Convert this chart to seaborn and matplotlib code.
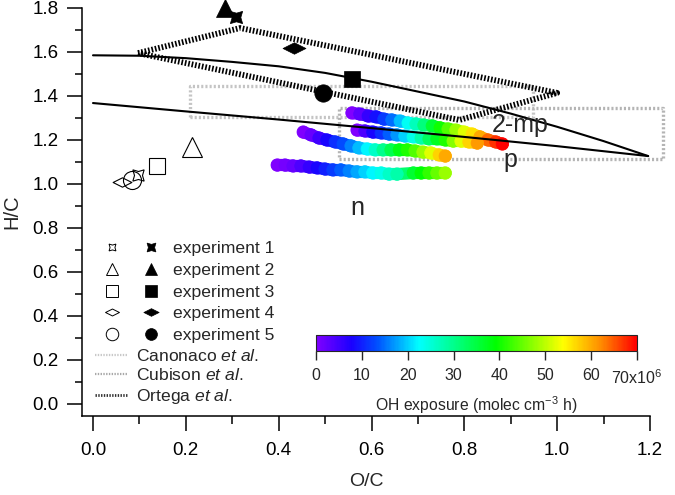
import numpy as np
import pandas as pd
import matplotlib
matplotlib.use("Agg")
import matplotlib.pyplot as plt
import seaborn as sns
from matplotlib.colors import LinearSegmentedColormap, Normalize
from matplotlib.cm import ScalarMappable
from matplotlib.collections import LineCollection
from matplotlib.lines import Line2D
from matplotlib.legend_handler import HandlerTuple
from matplotlib.path import Path

# ---------------- data ----------------
exp_labels = ["experiment 1", "experiment 2", "experiment 3", "experiment 4", "experiment 5"]
start_oc = [0.097, 0.213, 0.138, 0.062, 0.084]
start_hc = [1.041, 1.168, 1.082, 1.009, 1.018]
end_oc = [0.308, 0.284, 0.558, 0.433, 0.496]
end_hc = [1.760, 1.800, 1.477, 1.618, 1.414]

bandA_oc = [0.558, 0.575, 0.593, 0.610, 0.627, 0.644, 0.662, 0.679, 0.696, 0.713,
            0.731, 0.748, 0.765, 0.782, 0.800, 0.817, 0.834, 0.851, 0.868, 0.882]
bandA_hc = [1.323, 1.318, 1.309, 1.305, 1.295, 1.291, 1.286, 1.277, 1.273, 1.268,
            1.264, 1.255, 1.250, 1.245, 1.236, 1.227, 1.214, 1.200, 1.191, 1.182]
bandA_oh = [0, 3, 6, 9, 12, 15, 19, 23, 27, 31, 36, 40, 44, 48, 52, 56, 60, 64, 67, 70]

bandB_oc = [0.569, 0.586, 0.603, 0.621, 0.638, 0.655, 0.672, 0.690, 0.707, 0.724,
            0.741, 0.759, 0.776, 0.793, 0.810, 0.828]
bandB_hc = [1.245, 1.241, 1.236, 1.232, 1.227, 1.223, 1.218, 1.214, 1.209, 1.205,
            1.205, 1.200, 1.195, 1.195, 1.191, 1.186]
bandB_oh = [0, 4, 8, 11, 14, 17, 20, 24, 28, 33, 37, 41, 47, 52, 57, 61]

bandC_oc = [0.453, 0.470, 0.487, 0.504, 0.522, 0.539, 0.556, 0.573, 0.591, 0.608,
            0.625, 0.642, 0.660, 0.677, 0.694, 0.711, 0.728, 0.746, 0.759]
bandC_hc = [1.236, 1.223, 1.209, 1.200, 1.191, 1.182, 1.173, 1.164, 1.159, 1.155,
            1.155, 1.155, 1.155, 1.155, 1.150, 1.145, 1.141, 1.132, 1.127]
bandC_oh = [0, 2, 5, 8, 11, 13, 16, 19, 22, 26, 30, 34, 38, 41, 44, 48, 52, 57, 60]

bandD_oc = [0.397, 0.414, 0.431, 0.448, 0.466, 0.483, 0.500, 0.517, 0.534, 0.552,
            0.569, 0.586, 0.603, 0.621, 0.638, 0.655, 0.690, 0.707, 0.724, 0.741, 0.759]
bandD_hc = [1.086, 1.086, 1.082, 1.082, 1.077, 1.073, 1.068, 1.064, 1.064, 1.059,
            1.055, 1.055, 1.050, 1.050, 1.045, 1.045, 1.050, 1.050, 1.050, 1.050, 1.050]
bandD_oh = [0, 1, 2, 4, 6, 8, 10, 12, 14, 16, 18, 20, 22, 24, 26, 28, 36, 39, 42, 45, 48]

upper_oc = [0.0, 0.1, 0.2, 0.3, 0.4, 0.5, 0.6, 0.7, 0.8, 0.9, 1.0, 1.1, 1.196]
upper_hc = [1.585, 1.583, 1.572, 1.555, 1.535, 1.505, 1.465, 1.420, 1.375, 1.320, 1.260, 1.195, 1.127]
lower_oc = [0.0, 0.2, 0.4, 0.6, 0.8, 1.0, 1.196]
lower_hc = [1.368, 1.330, 1.293, 1.254, 1.214, 1.172, 1.127]

ortega_oc = [0.097, 0.317, 1.000, 0.789, 0.097]
ortega_hc = [1.595, 1.709, 1.414, 1.291, 1.595]
canonaco_oc = [0.210, 0.948, 0.948, 0.210, 0.210]
canonaco_hc = [1.305, 1.305, 1.445, 1.445, 1.305]
cubison_oc = [0.530, 1.228, 1.228, 0.530, 0.530]
cubison_hc = [1.114, 1.114, 1.345, 1.345, 1.114]

region_labels = ["2-mp", "p", "n"]
region_oc = [0.920, 0.899, 0.570]
region_hc = [1.236, 1.077, 0.859]

cbar_ticks = [0, 10, 20, 30, 40, 50, 60, 70]
cbar_ticklabels = ["0", "10", "20", "30", "40", "50", "60", "70x10$^6$"]

# ---------------- style ----------------
sns.set_style("ticks")
plt.rcParams['font.family'] = ['Liberation Sans', 'DejaVu Sans']
plt.rcParams['mathtext.fontset'] = 'custom'
plt.rcParams['mathtext.rm'] = 'Liberation Sans'
plt.rcParams['mathtext.it'] = 'Liberation Sans:italic'
plt.rcParams['lines.scale_dashes'] = False

FS = 12.6
TFS = 13.5
cmap = LinearSegmentedColormap.from_list(
    "igor_rainbow",
    [(0.0, '#8000ff'), (0.11, '#1a00ff'), (0.19, '#0050ff'), (0.32, '#00ffff'),
     (0.56, '#00ff00'), (0.77, '#ffff00'), (0.885, '#ff9000'), (1.0, '#ff0000')])
norm = Normalize(0, 70)

fig = plt.figure(figsize=(6.75, 4.95), dpi=100)
ax = fig.add_axes([82 / 675, 1 - 416 / 495, 568 / 675, 408 / 495])

# gray dotted regions
ax.plot(canonaco_oc, canonaco_hc, color='#c4c4c4', lw=2.4, ls=(0, (1.5, 1.5)),
        zorder=1, clip_on=False, dash_capstyle='butt')
ax.plot(cubison_oc, cubison_hc, color='#b4b4b4', lw=2.4, ls=(0, (1.5, 1.5)),
        zorder=1, clip_on=False, dash_capstyle='butt')

# trajectories colored by OH exposure
bands = []
for name, oc, hc, oh in [("A", bandA_oc, bandA_hc, bandA_oh),
                         ("B", bandB_oc, bandB_hc, bandB_oh),
                         ("C", bandC_oc, bandC_hc, bandC_oh),
                         ("D", bandD_oc, bandD_hc, bandD_oh)]:
    bands.append(pd.DataFrame({"band": name, "O/C": oc, "H/C": hc, "OH": oh}))
df = pd.concat(bands, ignore_index=True)
for name, sub in df.groupby("band", sort=False):
    pts = sub[["O/C", "H/C"]].to_numpy()
    segs = np.stack([pts[:-1], pts[1:]], axis=1)
    ohv = sub["OH"].to_numpy()
    lc = LineCollection(segs, colors=cmap(norm((ohv[:-1] + ohv[1:]) / 2)),
                        linewidths=8.8, capstyle='round', zorder=2)
    ax.add_collection(lc)
    sns.scatterplot(data=sub, x="O/C", y="H/C", hue="OH", palette=cmap,
                    hue_norm=(0, 70), s=80, marker='o', edgecolor='face',
                    linewidth=0.6, legend=False, ax=ax, zorder=2)

# solid lines
sns.lineplot(x=upper_oc, y=upper_hc, sort=False, estimator=None, color='black',
             lw=1.5, ax=ax, zorder=3)
sns.lineplot(x=lower_oc, y=lower_hc, sort=False, estimator=None, color='black',
             lw=1.5, ax=ax, zorder=3)
# Ortega dotted
ax.plot(ortega_oc, ortega_hc, color='black', lw=4.2, ls=(0, (1.2, 1.3)),
        zorder=3, dash_capstyle='butt')

# markers
diamond = Path([(-1, 0), (0, 0.5), (1, 0), (0, -0.5), (-1, 0)],
               [Path.MOVETO, Path.LINETO, Path.LINETO, Path.LINETO, Path.CLOSEPOLY])
markers = [(4, 1, 45), '^', 's', diamond, 'o']
open_sizes = [11.5, 14, 12, 13.5, 13]
fill_sizes = [12.5, 12.5, 12, 16.5, 12.5]
for i in range(5):
    ax.plot(start_oc[i], start_hc[i], marker=markers[i], ls='none', ms=open_sizes[i],
            mfc='none', mec='black', mew=0.8, zorder=5, clip_on=False)
    ax.plot(end_oc[i], end_hc[i], marker=markers[i], ls='none', ms=fill_sizes[i],
            mfc='black', mec='black', mew=0.5, zorder=5, clip_on=False)

for lab, x, y in zip(region_labels, region_oc, region_hc):
    ax.text(x, y, lab, fontsize=18, ha='center', va='baseline', zorder=6)

# axes formatting
ax.set_xlim(-11 / 464, 1.2)
ax.set_ylim(-12 / 220, 1.8)
ax.set_xticks(np.arange(0, 1.21, 0.2))
ax.set_xticks(np.arange(0.1, 1.2, 0.2), minor=True)
ax.set_yticks(np.arange(0, 1.81, 0.2))
ax.set_yticks(np.arange(0.1, 1.8, 0.2), minor=True)
ax.xaxis.set_major_formatter(matplotlib.ticker.FormatStrFormatter('%.1f'))
ax.yaxis.set_major_formatter(matplotlib.ticker.FormatStrFormatter('%.1f'))
ax.tick_params(which='major', length=10.8, width=1.1, direction='out',
               labelsize=TFS, color='black', labelcolor='black')
ax.tick_params(which='minor', length=5.4, width=1.1, direction='out', color='black')
ax.tick_params(axis='x', which='major', pad=8)
ax.tick_params(axis='y', which='major', pad=6)
for s in ['top', 'right']:
    ax.spines[s].set_visible(False)
for s in ['left', 'bottom']:
    ax.spines[s].set_linewidth(1.1)
    ax.spines[s].set_color('black')
ax.set_xlabel("O/C", fontsize=14, labelpad=10)
ax.set_ylabel("H/C", fontsize=14.5, labelpad=8)

# legends
open_h = [Line2D([], [], marker=markers[i], ls='none', ms=[7, 9, 8.5, 10, 9][i],
                 mfc='none', mec='black', mew=0.7) for i in range(5)]
fill_h = [Line2D([], [], marker=markers[i], ls='none', ms=[9, 9, 8.5, 11, 8.5][i],
                 mfc='black', mec='black', mew=0.5) for i in range(5)]
leg1 = ax.legend([(o, f) for o, f in zip(open_h, fill_h)], exp_labels,
                 handler_map={tuple: HandlerTuple(ndivide=None, pad=0.8)},
                 loc='upper left', bbox_to_anchor=(17 / 568, (416 - 241) / 408),
                 frameon=False, fontsize=FS, handlelength=3.7, handletextpad=0.55,
                 labelspacing=0.37, borderpad=0, borderaxespad=0)
ax.add_artist(leg1)
line_h = [Line2D([], [], color='#c8c8c8', lw=1.6, ls=(0, (1, 1))),
          Line2D([], [], color='#a8a8a8', lw=1.6, ls=(0, (1, 1))),
          Line2D([], [], color='#303030', lw=2.0, ls=(0, (1, 1)))]
line_labels = ["Canonaco $\\it{et\\ al.}$", "Cubison $\\it{et\\ al.}$", "Ortega $\\it{et\\ al.}$"]
ax.legend(line_h, line_labels, loc='upper left',
          bbox_to_anchor=(13 / 568, (416 - 348) / 408), frameon=False, fontsize=FS,
          handlelength=1.9, handletextpad=0.46, labelspacing=0.2, borderpad=0,
          borderaxespad=0)

# colorbar
cax = fig.add_axes([316 / 675, 1 - 351 / 495, 321 / 675, 16 / 495])
cb = fig.colorbar(ScalarMappable(norm=norm, cmap=cmap), cax=cax, orientation='horizontal')
cb.set_ticks(cbar_ticks)
cb.set_ticklabels(cbar_ticklabels)
cb.outline.set_linewidth(0.8)
cax.tick_params(length=6.5, width=1.0, direction='out', labelsize=11.5, pad=6)
cb.set_label("OH exposure (molec cm$^{-3}$ h)", fontsize=11.3, labelpad=5)

fig.savefig("out.png", dpi=100)
